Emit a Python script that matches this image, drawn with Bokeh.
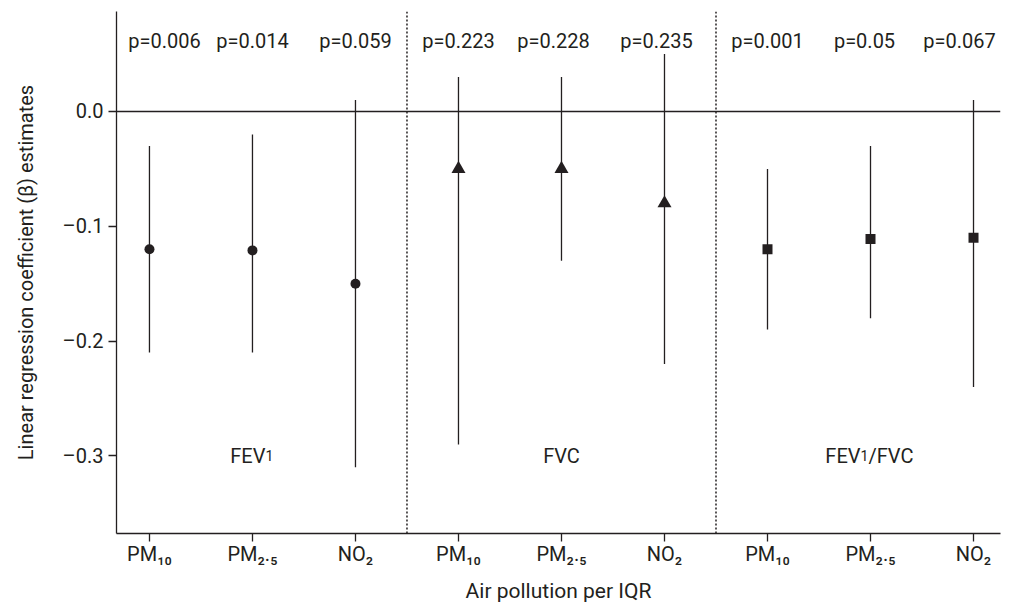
from bokeh.plotting import figure
from bokeh.models import Range1d, FixedTicker, Span, Label
from bokeh.embed import file_html
from bokeh.resources import INLINE

# ---------------- data ----------------
outcomes = ["FEV1", "FVC", "FEV1/FVC"]
pollutants = ["PM10", "PM2.5", "NO2"]
pollutant_labels = ["PM\u2081\u2080", "PM\u2082.\u2085", "NO\u2082"]

fev1_est = [-0.12, -0.121, -0.15]
fev1_lo = [-0.21, -0.21, -0.31]
fev1_hi = [-0.03, -0.02, 0.01]

fvc_est = [-0.05, -0.05, -0.08]
fvc_lo = [-0.29, -0.13, -0.22]
fvc_hi = [0.03, 0.03, 0.05]

ratio_est = [-0.12, -0.111, -0.11]
ratio_lo = [-0.19, -0.18, -0.24]
ratio_hi = [-0.05, -0.03, 0.01]

p_values = ["p=0.006", "p=0.014", "p=0.059",
            "p=0.223", "p=0.228", "p=0.235",
            "p=0.001", "p=0.05", "p=0.067"]

y_ticks = [0.0, -0.1, -0.2, -0.3]
y_tick_labels = ["0.0", "\u20130.1", "\u20130.2", "\u20130.3"]

# ---------------- style ----------------
FONT = "Roboto"
INK = "#231f20"
BIG = "20px"
SMALL = "14px"

p = figure(width=1008, height=606, output_backend="svg", toolbar_location=None,
           x_range=Range1d(0.68, 9.262), y_range=Range1d(-0.3676, 0.0871),
           min_border_left=116, min_border_right=8, min_border_top=11,
           min_border_bottom=73)
p.outline_line_color = None
p.xgrid.visible = False
p.ygrid.visible = False
p.background_fill_color = "white"
p.border_fill_color = "white"

# y axis
ya = p.yaxis[0]
ya.ticker = FixedTicker(ticks=y_ticks)
ya.major_label_overrides = {t: l for t, l in zip(y_ticks, y_tick_labels)}
ya.minor_tick_line_color = None
ya.major_tick_in = 0
ya.major_tick_out = 8
ya.major_label_standoff = 5
ya.axis_line_color = INK
ya.major_tick_line_color = INK
ya.axis_line_width = 1.3
ya.major_tick_line_width = 1.3
ya.major_label_text_font = FONT
ya.major_label_text_font_size = BIG
ya.major_label_text_color = INK
ya.axis_label = "Linear regression coefficient (\u03b2) estimates"
ya.axis_label_text_font = FONT
ya.axis_label_text_font_size = BIG
ya.axis_label_text_font_style = "normal"
ya.axis_label_text_color = INK
ya.axis_label_standoff = 22

# x axis
n_groups = len(outcomes)
n_poll = len(pollutants)
xs_all = [g * n_poll + i + 1 for g in range(n_groups) for i in range(n_poll)]
xa = p.xaxis[0]
xa.ticker = FixedTicker(ticks=xs_all)
xa.major_label_overrides = {x: pollutant_labels[(x - 1) % n_poll] for x in xs_all}
xa.major_label_text_font = FONT
xa.major_label_text_font_size = BIG
xa.major_label_text_color = INK
xa.major_label_standoff = 0
xa.minor_tick_line_color = None
xa.major_tick_in = 0
xa.major_tick_out = 8
xa.axis_line_color = INK
xa.major_tick_line_color = INK
xa.axis_line_width = 1.3
xa.major_tick_line_width = 1.3
xa.axis_label = "Air pollution per IQR"
xa.axis_label_text_font = FONT
xa.axis_label_text_font_size = "21px"
xa.axis_label_text_font_style = "normal"
xa.axis_label_text_color = INK
xa.axis_label_standoff = 10

# zero line and group separators
p.add_layout(Span(location=0, dimension="width", line_color=INK, line_width=1.3))
for g in range(1, n_groups):
    p.add_layout(Span(location=g * n_poll + 0.5, dimension="height",
                      line_color=INK, line_width=1.5, line_dash="2 2"))

# error bars and markers
groups = [(fev1_est, fev1_lo, fev1_hi, "circle", 10),
          (fvc_est, fvc_lo, fvc_hi, "triangle", 14),
          (ratio_est, ratio_lo, ratio_hi, "square", 10)]
for g, (est, lo, hi, marker, size) in enumerate(groups):
    xs = [g * n_poll + i + 1 for i in range(n_poll)]
    p.segment(x0=xs, y0=lo, x1=xs, y1=hi, line_color=INK, line_width=1.3)
    p.scatter(x=xs, y=est, marker=marker, size=size, fill_color=INK,
              line_color=INK, line_width=0)

# p-values
p_offsets = [15, 0, 0, 0, -8, -8, 0, -6, -14]
for x, txt, off in zip(xs_all, p_values, p_offsets):
    p.add_layout(Label(x=x, y=0.061, x_offset=off, text=txt, text_font=FONT,
                       text_font_size=BIG, text_color=INK, text_align="center",
                       text_baseline="alphabetic"))

# group (outcome) labels
group_parts = [[("FEV", BIG, "right", 13), ("1", SMALL, "left", 13)],
               [("FVC", BIG, "center", 0)],
               [("FEV", BIG, "right", -10), ("1", SMALL, "left", -10),
                ("/FVC", BIG, "left", -2)]]
for g, parts in enumerate(group_parts):
    xc = g * n_poll + 2
    for txt, fs, align, off in parts:
        p.add_layout(Label(x=xc, y=-0.3, x_offset=off, y_offset=0, text=txt,
                           text_font=FONT, text_font_size=fs, text_color=INK,
                           text_align=align, text_baseline="alphabetic"))

open("out.html", "w").write(file_html(p, INLINE))
